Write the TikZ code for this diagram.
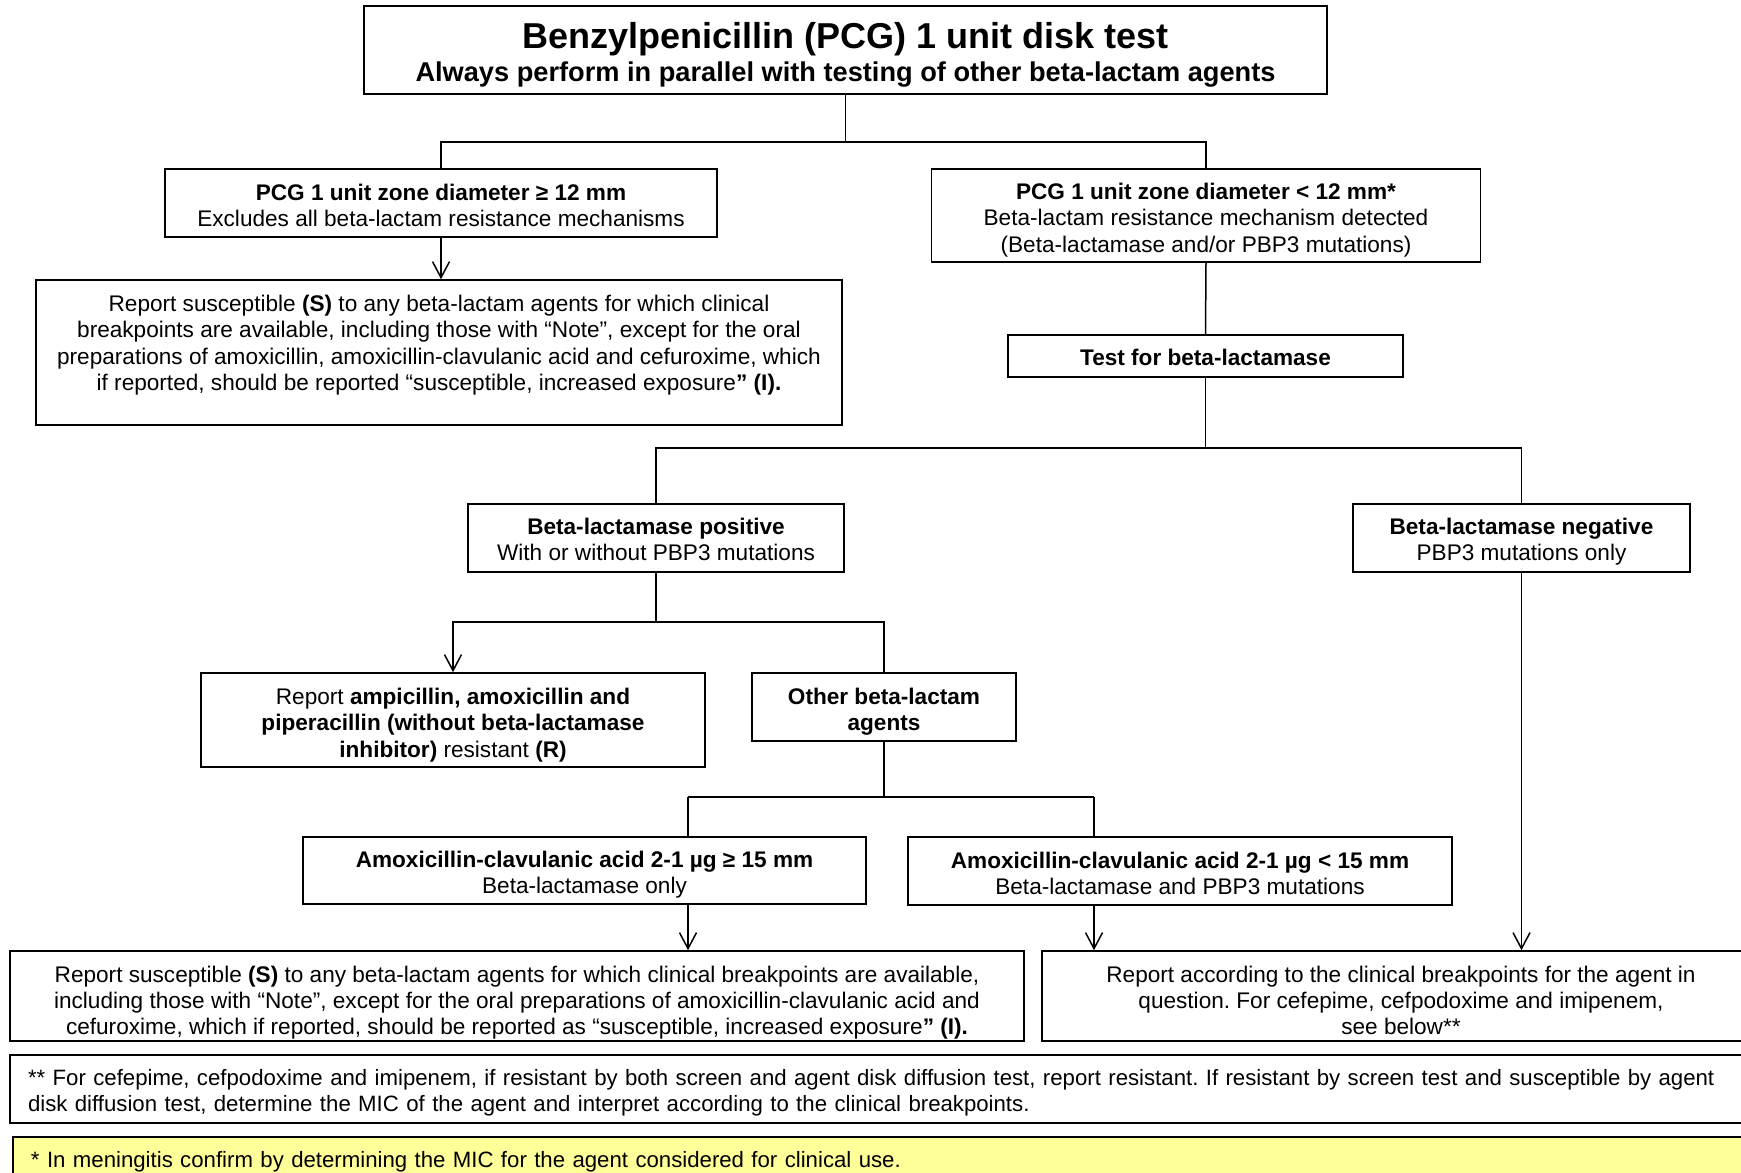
\documentclass[tikz,border=0pt]{standalone}
\usepackage{fontspec}
\setmainfont{Liberation Sans}
\usetikzlibrary{arrows.meta}

\newcommand{\topgap}[1]{\rule{0pt}{\dimexpr 8.2pt+#1*2\relax}}

\tikzset{
  box/.style={draw, line width=0.8pt, inner sep=0pt, align=center,
    font=\fontsize{11.3}{13.15}\selectfont\frenchspacing},
  note/.style={box, align=left, inner xsep=9pt,
    font=\fontsize{11.1}{12.9}\selectfont\frenchspacing},
  link/.style={line width=0.75pt},
  arr/.style={link, -{Straight Barb[length=8pt,width=8.5pt]}},
}

\begin{document}
\begin{tikzpicture}[x=0.5pt,y=-0.5pt]
  \useasboundingbox (0,0) rectangle (1741,1173);
  \clip (0,0) rectangle (1741,1173);

  \node[box, minimum width=481.5pt, minimum height=44pt, font=\fontsize{13.6}{16.6}\selectfont\bfseries] (title) at (845.5,50)
    {\topgap{4.95pt}{\fontsize{18}{16.6}\selectfont Benzylpenicillin (PCG) 1 unit disk test}\\
     Always perform in parallel with testing of other beta-lactam agents};

  \node[box, minimum width=276pt, minimum height=34pt] (geq) at (441,203)
    {\topgap{1.1pt}\textbf{PCG 1 unit zone diameter ≥ 12 mm}\\Excludes all beta-lactam resistance mechanisms};
  \node[box, minimum width=403pt, minimum height=72.5pt] (reportS) at (439,352.5)
    {\topgap{1.7pt}Report susceptible \textbf{(S)} to any beta-lactam agents for which clinical\\
     breakpoints are available, including those with “Note”, except for the oral\\
     preparations of amoxicillin, amoxicillin-clavulanic acid and cefuroxime, which\\
     if reported, should be reported “susceptible, increased exposure\textbf{” (I).}\\ \mbox{}};

  \node[box, minimum width=274.5pt, minimum height=46.5pt] (less) at (1206,215.5)
    {\topgap{2.2pt}\textbf{PCG 1 unit zone diameter < 12 mm*}\\Beta-lactam resistance mechanism detected\\(Beta-lactamase and/or PBP3 mutations)};
  \node[box, minimum width=197.5pt, minimum height=21pt] (test) at (1205.5,356)
    {\topgap{0.5pt}\textbf{Test for beta-lactamase}};

  \node[box, minimum width=188pt, minimum height=34pt] (pos) at (656,538)
    {\topgap{0.8pt}\textbf{Beta-lactamase positive}\\With or without PBP3 mutations};
  \node[box, minimum width=168.5pt, minimum height=34pt] (neg) at (1521.5,538)
    {\topgap{1.9pt}\textbf{Beta-lactamase negative}\\PBP3 mutations only};

  \node[box, minimum width=252pt, minimum height=47pt] (reportR) at (453,720)
    {\topgap{2.5pt}Report \textbf{ampicillin, amoxicillin and}\\\textbf{piperacillin (without beta-lactamase}\\\textbf{inhibitor)} resistant \textbf{(R)}};
  \node[box, minimum width=132pt, minimum height=34pt] (other) at (884,707)
    {\topgap{2.2pt}\textbf{Other beta-lactam}\\\textbf{agents}};

  \node[box, minimum width=281.5pt, minimum height=33.5pt] (amoxgeq) at (584.5,870.5)
    {\topgap{1.9pt}\textbf{Amoxicillin-clavulanic acid 2-1 µg ≥ 15 mm}\\Beta-lactamase only};
  \node[box, minimum width=272pt, minimum height=34pt] (amoxless) at (1180,871)
    {\topgap{1.1pt}\textbf{Amoxicillin-clavulanic acid 2-1 µg < 15 mm}\\Beta-lactamase and PBP3 mutations};

  \node[box, minimum width=507pt, minimum height=45pt] (reportS2) at (517,996)
    {\topgap{3.3pt}Report susceptible \textbf{(S)} to any beta-lactam agents for which clinical breakpoints are available,\\
     including those with “Note”, except for the oral preparations of amoxicillin-clavulanic acid and\\
     cefuroxime, which if reported, should be reported as “susceptible, increased exposure\textbf{” (I).}};
  \node[box, minimum width=359pt, minimum height=45pt] (reportbp) at (1401,996)
    {\topgap{2.2pt}Report according to the clinical breakpoints for the agent in\\
     question. For cefepime, cefpodoxime and imipenem,\\see below**};

  \node[note, text width=857pt, minimum height=34pt] (footA) at (885,1089)
    {\topgap{1.9pt}** For cefepime, cefpodoxime and imipenem, if resistant by both screen and agent disk diffusion test, report resistant. If resistant by screen test and susceptible by agent\\
     disk diffusion test, determine the MIC of the agent and interpret according to the clinical breakpoints.};
  \node[note, fill={rgb,255:red,255;green,255;blue,153}, text width=855.5pt, minimum height=21pt] (footB) at (886.5,1158)
    {\topgap{1.7pt}* In meningitis confirm by determining the MIC for the agent considered for clinical use.};

  \coordinate (b1) at (845.5,142);
  \coordinate (b2) at (1205.5,448);
  \coordinate (b3) at (656,622);
  \coordinate (b4) at (884,797);
  \coordinate (l4) at (688,797);
  \coordinate (r4) at (1094,797);

  \draw[link] (title.south) -- (b1);
  \draw[link] (geq.north) |- (b1) -| (less.north);
  \draw[arr] (geq.south) -- (reportS.north -| geq.south);
  \draw[link] (less.south) -- (test.north);
  \draw[link] (test.south) -- (b2);
  \draw[link] (pos.north) |- (b2) -| (neg.north);
  \draw[link] (pos.south) -- (b3);
  \draw[arr] (b3) -| (reportR.north);
  \draw[link] (b3) -| (other.north);
  \draw[link] (other.south) -- (b4);
  \draw[link] (l4) -- (r4);
  \draw[link] (l4) -- (l4 |- amoxgeq.north);
  \draw[link] (r4) -- (r4 |- amoxless.north);
  \draw[arr] (l4 |- amoxgeq.south) -- (l4 |- reportS2.north);
  \draw[arr] (r4 |- amoxless.south) -- (r4 |- reportbp.north);
  \draw[arr] (neg.south) -- (neg.south |- reportbp.north);
\end{tikzpicture}
\end{document}
